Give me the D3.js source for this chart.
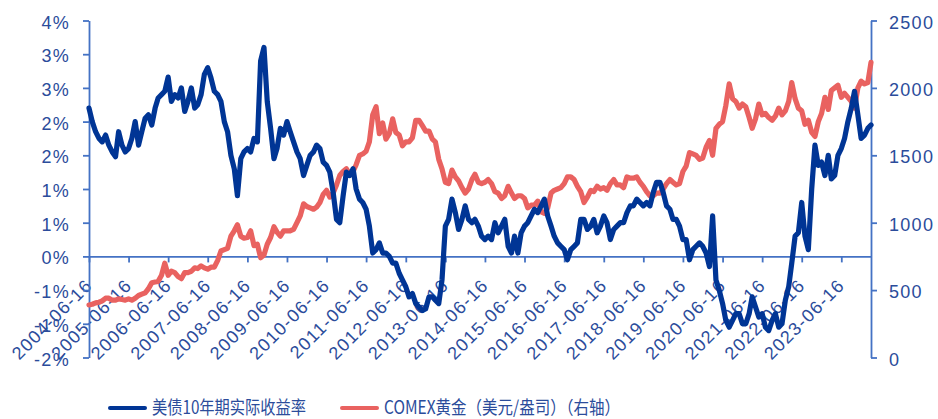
<!DOCTYPE html>
<html>
<head>
<meta charset="utf-8">
<script src="https://cdn.jsdelivr.net/npm/d3@7"></script>
<style>
  html, body { margin: 0; padding: 0; background: #ffffff; }
  svg { display: block; }
</style>
</head>
<body>
<svg id="chart" width="938" height="419"></svg>
<script>
// Monthly series, starting 2004-06-16 and ending 2024-03-16
const startDate = new Date(2004, 5, 16);

// 美债10年期实际收益率 (%)
const realYield = [
  2.2, 2.0, 1.85, 1.75, 1.7, 1.8, 1.65,
  1.55, 1.48, 1.85, 1.65, 1.55, 1.6, 1.75, 2.0, 1.65, 1.85, 2.05, 2.1,
  1.95, 2.2, 2.35, 2.4, 2.45, 2.66, 2.3, 2.4, 2.35, 2.5, 2.15, 2.3,
  2.5, 2.2, 2.25, 2.4, 2.7, 2.8, 2.65, 2.45, 2.4, 2.3, 2.0, 1.85,
  1.5, 1.3, 0.9, 1.45, 1.55, 1.6, 1.55, 1.75, 1.7, 2.9, 3.1, 2.3,
  1.9, 1.45, 1.6, 1.9, 1.8, 2.0, 1.85, 1.7, 1.55, 1.45, 1.2, 1.35,
  1.5, 1.55, 1.65, 1.6, 1.4, 1.35, 1.25, 0.95, 0.55, 0.5, 0.9, 1.25,
  1.2, 1.3, 1.0, 0.85, 0.8, 0.7, 0.45, 0.05, 0.1, 0.2, 0.05, 0.05,
  0.0, -0.1, -0.1, -0.25, -0.35, -0.45, -0.6, -0.55, -0.7, -0.75, -0.8, -0.78,
  -0.6, -0.6, -0.65, -0.7, -0.35, 0.45, 0.55, 0.85, 0.65, 0.4, 0.55, 0.75,
  0.55, 0.5, 0.55, 0.45, 0.3, 0.25, 0.3, 0.25, 0.5, 0.35, 0.45, 0.55,
  0.15, 0.05, 0.3, 0.05, 0.35, 0.45, 0.5, 0.6, 0.7, 0.65, 0.75, 0.85,
  0.6, 0.45, 0.3, 0.2, 0.15, 0.1, -0.05, 0.1, 0.15, 0.2, 0.55, 0.55,
  0.4, 0.45, 0.55, 0.35, 0.45, 0.6, 0.5, 0.25, 0.4, 0.45, 0.5, 0.5,
  0.65, 0.75, 0.75, 0.85, 0.8, 0.75, 0.8, 0.75, 0.95, 1.1, 1.1, 0.95,
  0.75, 0.7, 0.55, 0.55, 0.45, 0.25, 0.25, -0.05, 0.1, 0.15, 0.2, 0.15,
  0.05, -0.15, 0.6, -0.35, -0.5, -0.7, -0.95, -1.05, -0.95, -0.85, -0.85, -1.0,
  -1.0, -0.85, -0.6, -0.75, -0.9, -0.85, -1.05, -1.1, -0.95, -0.85, -1.05, -1.0,
  -0.65, -0.45, -0.1, 0.3, 0.35, 0.8, 0.3, 0.1, 1.0, 1.65, 1.35, 1.4,
  1.2, 1.5, 1.15, 1.2, 1.5, 1.6, 1.75, 2.0, 2.2, 2.45, 2.1, 1.75,
  1.8, 1.9, 1.95
];

// COMEX黄金 (美元/盎司)
const goldPrice = [
  390, 395, 405, 410, 420, 440, 440,
  425, 425, 435, 430, 425, 435, 425, 440, 460, 470, 480, 510,
  555, 560, 565, 610, 700, 610, 640, 630, 600, 585, 630, 630,
  640, 665, 660, 680, 665, 655, 670, 670, 720, 790, 800, 810,
  900, 940, 985, 900, 885, 890, 940, 830, 840, 740, 760, 840,
  890, 970, 930, 900, 940, 940, 940, 950, 1000, 1050, 1140, 1120,
  1110, 1100, 1115, 1150, 1210, 1240, 1190, 1220, 1280, 1350, 1380, 1400,
  1360, 1380, 1430, 1500, 1510, 1530, 1600, 1800, 1860, 1660, 1740, 1620,
  1660, 1770, 1670, 1650, 1570, 1600, 1600, 1630, 1760, 1760, 1720, 1680,
  1680, 1620, 1600, 1470, 1400, 1300, 1290, 1390, 1340, 1310, 1260, 1220,
  1250, 1320, 1360, 1300, 1290, 1300, 1320, 1290, 1230, 1220, 1180, 1200,
  1270, 1220, 1180, 1200, 1200, 1180, 1110, 1130, 1130, 1160, 1080, 1070,
  1110, 1220, 1240, 1250, 1260, 1290, 1340, 1340, 1320, 1270, 1230, 1150,
  1190, 1240, 1230, 1270, 1250, 1260, 1240, 1290, 1320, 1280, 1280, 1260,
  1340, 1330, 1330, 1340, 1300, 1270, 1230, 1200, 1200, 1220, 1220, 1250,
  1290, 1320, 1300, 1280, 1290, 1380, 1420, 1520, 1510, 1500, 1470, 1480,
  1560, 1610, 1500, 1700, 1730, 1750, 1870, 2030, 1920, 1900, 1850, 1880,
  1860, 1780, 1700, 1770, 1880, 1800, 1810, 1780, 1760, 1790, 1850, 1800,
  1830, 1900, 2040, 1920, 1850, 1830, 1730, 1760, 1670, 1640, 1750, 1810,
  1930, 1840, 1980, 2000, 2020, 1930, 1960, 1930, 1900, 1850, 2000, 2050,
  2030, 2040, 2190
];

// Axis ticks
const xTickYears = d3.range(2004, 2024);
const leftTicks = [-1.5, -1.0, -0.5, 0, 0.5, 1.0, 1.5, 2.0, 2.5, 3.0, 3.5];
const rightTicks = [0, 500, 1000, 1500, 2000, 2500];

const seriesNames = ["美债10年期实际收益率", "COMEX黄金（美元/盎司）（右轴）"];

const BLUE = "#003595";
const RED = "#E96260";
const AXIS = "#4472C4";
const TEXT = "#2B4C9B";
const FONT = "'Liberation Sans', Arial, sans-serif";

const dates = realYield.map((_, i) => d3.timeMonth.offset(startDate, i));
const rows = dates.map((d, i) => ({ date: d, yield: realYield[i], gold: goldPrice[i] }));

const svg = d3.select("#chart");
const plot = { left: 89, right: 871, top: 20.5, bottom: 357.5 };

const x = d3.scaleTime()
  .domain([startDate, dates[dates.length - 1]])
  .range([plot.left, plot.right]);
const yL = d3.scaleLinear().domain([-1.5, 3.5]).range([plot.bottom, plot.top]);
const yR = d3.scaleLinear().domain([0, 2500]).range([plot.bottom, plot.top]);

// Percent labels use whole numbers, rounding halves away from zero
const pctFmt = v => (v < 0 ? "-" : "") + Math.round(Math.abs(v)) + "%";
const dateFmt = d3.timeFormat("%Y-%m-%d");

function styleAxis(g) {
  g.select(".domain").attr("stroke", AXIS).attr("stroke-width", 1.8);
  g.selectAll(".tick line").attr("stroke", AXIS).attr("stroke-width", 1.8);
  g.selectAll(".tick text")
    .attr("fill", TEXT)
    .style("font-family", FONT)
    .style("font-size", "18px")
    .style("letter-spacing", "1.3px");
}

// Bottom axis along the 0% line
const gx = svg.append("g")
  .attr("transform", `translate(0,${yL(0)})`)
  .call(d3.axisBottom(x)
    .tickValues(xTickYears.map(yr => new Date(yr, 5, 16)))
    .tickFormat(dateFmt)
    .tickSize(6)
    .tickSizeOuter(0));
styleAxis(gx);
gx.selectAll(".tick text")
  .attr("x", 0).attr("y", 0).attr("dy", 0)
  .attr("transform", "translate(4,30) rotate(-45)")
  .style("text-anchor", "end");

// Left axis
const gl = svg.append("g")
  .attr("transform", `translate(${plot.left},0)`)
  .call(d3.axisLeft(yL).tickValues(leftTicks).tickFormat(pctFmt)
    .tickSize(6).tickSizeOuter(0).tickPadding(13));
styleAxis(gl);
gl.selectAll(".tick text").attr("dy", "0.42em");

// Right axis
const gr = svg.append("g")
  .attr("transform", `translate(${plot.right},0)`)
  .call(d3.axisRight(yR).tickValues(rightTicks).tickFormat(d3.format("d"))
    .tickSize(6).tickSizeOuter(0).tickPadding(12));
styleAxis(gr);
gr.selectAll(".tick text").attr("dy", "0.42em");

// Series lines
const goldLine = d3.line().x(d => x(d.date)).y(d => yR(d.gold));
const yieldLine = d3.line().x(d => x(d.date)).y(d => yL(d.yield));

svg.append("path").datum(rows)
  .attr("d", goldLine)
  .attr("fill", "none").attr("stroke", RED)
  .attr("stroke-width", 5.2).attr("stroke-linejoin", "round").attr("stroke-linecap", "round");

svg.append("path").datum(rows)
  .attr("d", yieldLine)
  .attr("fill", "none").attr("stroke", BLUE)
  .attr("stroke-width", 5.2).attr("stroke-linejoin", "round").attr("stroke-linecap", "round");

// Legend
const legendItems = [
  { name: seriesNames[0], color: BLUE, x: 110, width: 154 },
  { name: seriesNames[1], color: RED, x: 342, width: 236 }
];
const lg = svg.append("g").attr("transform", "translate(0,408)");
legendItems.forEach(it => {
  lg.append("line")
    .attr("x1", it.x).attr("x2", it.x + 35).attr("y1", 0).attr("y2", 0)
    .attr("stroke", it.color).attr("stroke-width", 4).attr("stroke-linecap", "round");
  lg.append("text")
    .attr("x", it.x + 42).attr("y", 0).attr("dy", "0.36em")
    .attr("fill", TEXT)
    .attr("textLength", it.width).attr("lengthAdjust", "spacingAndGlyphs")
    .style("font-family", "'Noto Sans CJK SC', 'Liberation Sans', sans-serif")
    .style("font-size", "18px")
    .text(it.name);
});
</script>
</body>
</html>
